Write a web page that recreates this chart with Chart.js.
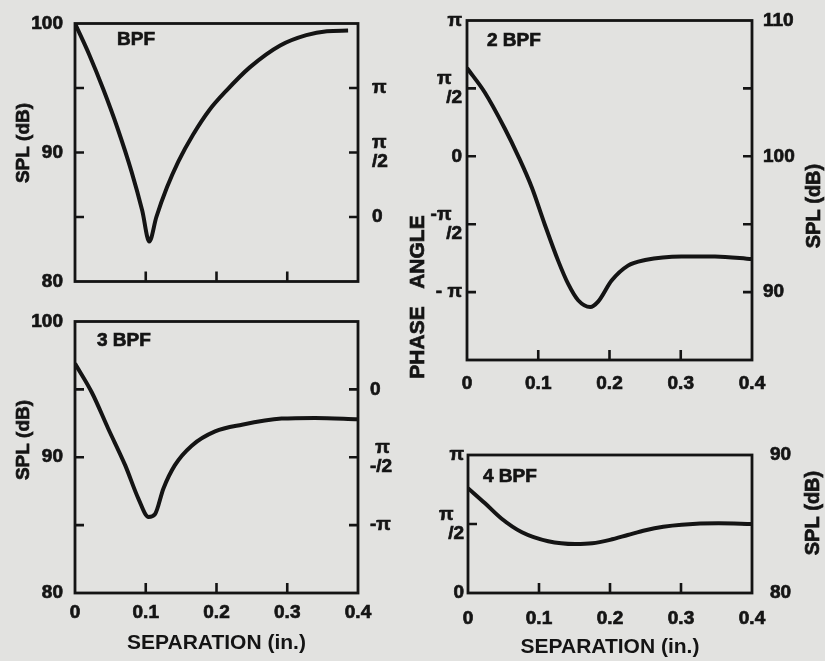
<!DOCTYPE html>
<html>
<head>
<meta charset="utf-8">
<script src="https://cdn.jsdelivr.net/npm/chart.js@4/dist/chart.umd.min.js"></script>
<style>
  html, body { margin: 0; padding: 0; background: #e2e2e0; }
  body { width: 825px; height: 661px; position: relative; overflow: hidden; }
  canvas { position: absolute; }
</style>
</head>
<body>
<canvas id="p1" width="400" height="305" style="left:0;top:0"></canvas>
<canvas id="p3" width="400" height="361" style="left:0;top:300px"></canvas>
<canvas id="p2" width="425" height="400" style="left:400px;top:0"></canvas>
<canvas id="p4" width="425" height="241" style="left:400px;top:420px"></canvas>
<script>
// ---------- data (separation in inches, SPL in dB) ----------
const bpf1Sep = [0, 0.02, 0.04, 0.06, 0.08, 0.095, 0.105, 0.115, 0.13, 0.146, 0.167, 0.19, 0.214, 0.247, 0.29, 0.327, 0.356, 0.386];
const bpf1Spl = [100, 97.6, 94.9, 91.9, 88.5, 85.5, 83.1, 85.0, 87.3, 89.3, 91.4, 93.3, 94.8, 96.6, 98.3, 99.1, 99.4, 99.45];

const bpf2Sep = [0, 0.025, 0.053, 0.072, 0.091, 0.109, 0.128, 0.142, 0.156, 0.173, 0.184, 0.203, 0.226, 0.25, 0.301, 0.348, 0.4];
const bpf2Spl = [106.5, 104.7, 102.05, 100.0, 97.7, 95.0, 92.3, 90.6, 89.4, 88.9, 89.3, 90.85, 91.95, 92.36, 92.63, 92.63, 92.43];

const bpf3Sep = [0, 0.024, 0.047, 0.071, 0.09, 0.104, 0.113, 0.125, 0.141, 0.165, 0.198, 0.236, 0.292, 0.339, 0.4];
const bpf3Spl = [96.9, 94.75, 92.1, 89.4, 86.9, 85.6, 85.8, 87.7, 89.4, 90.85, 91.9, 92.4, 92.85, 92.9, 92.8];

const bpf4Sep = [0, 0.024, 0.047, 0.076, 0.113, 0.151, 0.175, 0.2, 0.225, 0.25, 0.275, 0.301, 0.353, 0.4];
const bpf4Spl = [87.6, 86.5, 85.4, 84.4, 83.75, 83.55, 83.6, 83.85, 84.2, 84.55, 84.8, 84.95, 85.05, 85.0];

// ---------- tick labels ----------
const sepTicks = [0, 0.1, 0.2, 0.3, 0.4];
const sepLabels = ['0', '0.1', '0.2', '0.3', '0.4'];

const spl1Ticks = [80, 90, 100];       const spl1Labels = ['80', '90', '100'];
const spl2Ticks = [90, 100, 110];      const spl2Labels = ['90', '100', '110'];
const spl3Ticks = [80, 90, 100];       const spl3Labels = ['80', '90', '100'];
const spl4Ticks = [80, 90];            const spl4Labels = ['80', '90'];

// phase angle in units of pi
const phase1Ticks = [0, 0.5, 1];            const phase1Labels = ['0', ['π', '/2'], 'π'];
const phase2Ticks = [-1, -0.5, 0, 0.5, 1];  const phase2Labels = ['- π', ['-π  ', '/2'], '0', ['π  ', '/2'], 'π'];
const phase3Ticks = [-1, -0.5, 0];          const phase3Labels = ['-π', [' π', '-/2'], '0'];
const phase4Ticks = [0, 0.5, 1];            const phase4Labels = ['0', ['π  ', '/2'], 'π'];

const panelNames = ['BPF', '2 BPF', '3 BPF', '4 BPF'];

// ---------- drawing ----------
const FONT = '"Liberation Sans", Arial, sans-serif';
const INK = '#141414';
Chart.defaults.font.family = FONT;
Chart.defaults.color = INK;

function lookup(vals, labels) {
  return v => {
    const i = vals.findIndex(t => Math.abs(t - v) < 1e-6);
    return i < 0 ? '' : labels[i];
  };
}

function vScale(pos, min, max, step, vals, labels, width, pad) {
  return {
    type: 'linear', position: pos, min, max,
    grid: { display: false, drawTicks: false },
    border: { display: false },
    ticks: { stepSize: step, autoSkip: false, padding: pad, color: INK,
             textStrokeColor: INK, textStrokeWidth: 0.7,
             font: { size: 19, weight: 'bold', lineHeight: 1.0 },
             callback: lookup(vals, labels) },
    title: { display: false },
    afterFit: s => { s.width = width; }
  };
}

function makePanel(id, p) {
  const decor = {
    id: 'decor' + id,
    afterDraw(chart) {
      const { ctx, chartArea: a } = chart;
      const yl = chart.scales.yl, x = chart.scales.x;
      ctx.save();
      ctx.strokeStyle = INK;
      ctx.lineWidth = 2.8;
      ctx.strokeRect(a.left, a.top, a.right - a.left, a.bottom - a.top);
      ctx.lineWidth = 2.6;
      ctx.beginPath();
      yl.ticks.forEach(t => {
        if (t.value <= yl.min + 1e-9 || t.value >= yl.max - 1e-9) return;
        const py = yl.getPixelForValue(t.value);
        ctx.moveTo(a.left, py); ctx.lineTo(a.left + 9, py);
        ctx.moveTo(a.right - 9, py); ctx.lineTo(a.right, py);
      });
      x.ticks.forEach(t => {
        if (t.value <= x.min + 1e-9 || t.value >= x.max - 1e-9) return;
        const px = x.getPixelForValue(t.value);
        ctx.moveTo(px, a.bottom); ctx.lineTo(px, a.bottom - 10);
      });
      ctx.stroke();
      ctx.fillStyle = INK;
      ctx.lineWidth = 0.7;
      ctx.font = 'bold 19px ' + FONT;
      ctx.textAlign = 'left';
      ctx.textBaseline = 'top';
      ctx.fillText(p.name, a.left + p.nameDx, a.top + p.nameDy);
      ctx.strokeText(p.name, a.left + p.nameDx, a.top + p.nameDy);
      (p.rotTexts || []).forEach(r => {
        ctx.save();
        ctx.translate(r.x, r.y);
        ctx.rotate(-Math.PI / 2);
        ctx.font = 'bold ' + r.size + 'px ' + FONT;
        ctx.textAlign = 'center';
        ctx.textBaseline = 'middle';
        ctx.fillText(r.text, 0, 0);
        ctx.strokeText(r.text, 0, 0);
        ctx.restore();
      });
      ctx.restore();
    }
  };

  new Chart(document.getElementById(id), {
    type: 'line',
    data: {
      datasets: [{
        data: p.sep.map((x, i) => ({ x, y: p.spl[i] })),
        yAxisID: p.splAxis,
        borderColor: INK, borderWidth: 4,
        pointRadius: 0, cubicInterpolationMode: 'monotone', fill: false
      }]
    },
    options: {
      responsive: false, animation: false, events: [],
      layout: { padding: p.pad },
      plugins: { legend: { display: false }, tooltip: { enabled: false } },
      scales: {
        x: {
          type: 'linear', min: 0, max: 0.4,
          grid: { display: false, drawTicks: false },
          border: { display: false },
          ticks: { display: p.xLabels, stepSize: 0.1, autoSkip: false, padding: p.xPad, color: INK,
                   textStrokeColor: INK, textStrokeWidth: 0.7,
                   maxRotation: 0, font: { size: 19, weight: 'bold', lineHeight: 1.0 },
                   callback: lookup(sepTicks, sepLabels) },
          title: p.xTitle || { display: false },
          afterFit: s => { s.height = p.xHeight; }
        },
        yl: p.yl,
        yr: p.yr
      }
    },
    plugins: [decor]
  });
}

// Panel 1: BPF
makePanel('p1', {
  name: panelNames[0], nameDx: 42, nameDy: 7,
  sep: bpf1Sep, spl: bpf1Spl, splAxis: 'yl',
  pad: { top: 18, left: 0, right: 0, bottom: 0 },
  xLabels: false, xPad: 0, xHeight: 13,
  yl: vScale('left', 80, 100, 5, spl1Ticks, spl1Labels, 75, 12),
  yr: vScale('right', -0.5, 1.5, 0.5, phase1Ticks, phase1Labels, 42, 14),
  rotTexts: [ { text: 'SPL (dB)', x: 24, y: 143, size: 19 } ]
});

// Panel 3: 3 BPF
makePanel('p3', {
  name: panelNames[2], nameDx: 22, nameDy: 10,
  sep: bpf3Sep, spl: bpf3Spl, splAxis: 'yl',
  pad: { top: 20, left: 0, right: 0, bottom: 0 },
  xLabels: true, xPad: 10, xHeight: 68,
  xTitle: { display: true, text: 'SEPARATION (in.)', color: INK,
            font: { size: 21, weight: 'bold' }, padding: { top: 0, bottom: 5.4 } },
  yl: vScale('left', 80, 100, 5, spl3Ticks, spl3Labels, 75, 12),
  yr: vScale('right', -1.5, 0.5, 0.5, phase3Ticks, phase3Labels, 42, 12),
  rotTexts: [ { text: 'SPL (dB)', x: 24, y: 140, size: 19 } ]
});

// Panel 2: 2 BPF
makePanel('p2', {
  name: panelNames[1], nameDx: 20, nameDy: 11,
  sep: bpf2Sep, spl: bpf2Spl, splAxis: 'yr',
  pad: { top: 18, left: 0, right: 0, bottom: 0 },
  xLabels: true, xPad: 14, xHeight: 40,
  yl: vScale('left', -1.5, 1, 0.5, phase2Ticks, phase2Labels, 67, 5),
  yr: vScale('right', 85, 110, 5, spl2Ticks, spl2Labels, 73, 11),
  rotTexts: [
    { text: 'PHASE   ANGLE', x: 18, y: 297, size: 21 },
    { text: 'SPL (dB)', x: 414, y: 206, size: 20 }
  ]
});

// Panel 4: 4 BPF
makePanel('p4', {
  name: panelNames[3], nameDx: 15, nameDy: 12,
  sep: bpf4Sep, spl: bpf4Spl, splAxis: 'yr',
  pad: { top: 35, left: 0, right: 0, bottom: 0 },
  xLabels: true, xPad: 16, xHeight: 68,
  xTitle: { display: true, text: 'SEPARATION (in.)', color: INK,
            font: { size: 21, weight: 'bold' }, padding: { top: 0, bottom: 1.4 } },
  yl: vScale('left', 0, 1, 0.5, phase4Ticks, phase4Labels, 68, 4),
  yr: vScale('right', 80, 90, 5, spl4Ticks, spl4Labels, 73, 18),
  rotTexts: [
    { text: 'SPL (dB)', x: 413, y: 93, size: 20 }
  ]
});
</script>
</body>
</html>
